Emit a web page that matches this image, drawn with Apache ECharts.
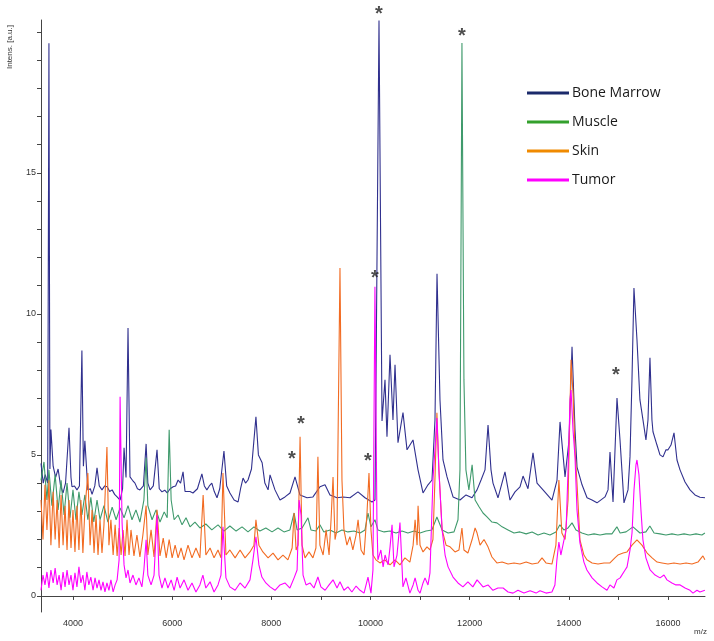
<!DOCTYPE html>
<html><head><meta charset="utf-8">
<script src="https://cdn.jsdelivr.net/npm/echarts@6/dist/echarts.min.js"></script>
<style>html,body{margin:0;padding:0;background:#fff}#c{width:714px;height:641px}</style>
</head><body><div id="c"></div>
<script>
const seriesNames = ['Bone Marrow', 'Muscle', 'Skin', 'Tumor'];
const xTickValues = [4000,5000,6000,7000,8000,9000,10000,11000,12000,13000,14000,15000,16000];
const xLabelValues = [4000,6000,8000,10000,12000,14000,16000];
const yTickValues = [0,1,2,3,4,5,6,7,8,9,10,11,12,13,14,15,16,17,18,19,20];
const yLabelValues = [0,5,10,15];

const boneMarrow = [[3355,4.7],[3400,4.0],[3440,4.3],[3490,4.0],[3515,19.6],[3535,4.5],[3555,5.9],[3600,4.6],[3650,4.2],[3700,4.5],[3750,3.9],[3800,3.65],[3850,4.0],[3920,5.96],[3960,4.2],[3980,3.87],[4030,3.9],[4080,3.76],[4130,3.9],[4180,8.7],[4210,4.6],[4240,5.5],[4300,3.76],[4350,3.8],[4385,3.6],[4440,3.9],[4485,4.54],[4530,3.9],[4585,3.76],[4640,3.9],[4690,3.87],[4740,3.7],[4790,3.76],[4840,3.6],[4890,3.51],[4950,3.4],[5000,3.8],[5030,5.25],[5070,4.2],[5110,9.5],[5150,4.22],[5200,4.1],[5250,4.0],[5300,3.8],[5350,3.76],[5420,3.9],[5475,5.39],[5510,4.0],[5555,3.76],[5620,3.9],[5695,5.18],[5740,3.8],[5795,3.69],[5850,3.75],[5900,3.65],[5960,3.8],[6020,3.87],[6070,3.9],[6120,4.11],[6170,4.0],[6220,4.4],[6260,3.7],[6300,3.65],[6360,3.7],[6420,3.65],[6510,3.8],[6600,4.33],[6650,3.9],[6700,3.76],[6750,3.9],[6800,4.0],[6850,3.7],[6905,3.48],[6960,3.8],[7045,5.14],[7100,3.9],[7165,3.65],[7250,3.4],[7330,3.33],[7380,3.8],[7430,4.18],[7480,4.0],[7530,4.11],[7600,4.5],[7690,6.35],[7740,5.0],[7815,4.72],[7870,4.0],[7935,3.76],[7974,4.29],[8074,3.76],[8175,3.4],[8276,3.51],[8377,3.65],[8478,4.22],[8578,3.58],[8720,3.48],[8840,3.51],[8982,3.87],[9083,3.94],[9183,3.58],[9325,3.48],[9446,3.51],[9587,3.48],[9748,3.69],[9890,3.48],[10031,3.33],[10091,3.4],[10130,3.35],[10172,20.4],[10233,6.2],[10293,7.66],[10333,5.64],[10394,8.55],[10454,6.24],[10495,8.2],[10555,5.43],[10656,6.5],[10737,5.18],[10858,5.53],[10959,4.47],[11060,3.65],[11160,3.94],[11241,4.11],[11301,6.24],[11342,11.42],[11402,6.95],[11463,4.82],[11544,4.22],[11665,3.51],[11806,3.4],[11927,3.58],[12048,3.48],[12149,3.76],[12230,4.11],[12310,4.47],[12371,6.06],[12431,4.47],[12471,4.0],[12572,3.48],[12713,4.4],[12814,3.4],[12915,3.69],[13016,3.87],[13077,4.25],[13177,3.8],[13278,5.07],[13359,4.0],[13480,3.76],[13661,3.4],[13762,4.1],[13823,6.17],[13924,4.22],[14004,5.5],[14065,8.83],[14125,5.9],[14166,4.57],[14267,3.94],[14368,3.48],[14468,3.4],[14569,3.3],[14730,3.51],[14791,3.76],[14831,5.1],[14892,3.33],[14972,7.02],[15033,5.53],[15113,3.3],[15194,3.76],[15234,4.93],[15274,7.66],[15314,10.92],[15375,9.08],[15435,6.95],[15496,6.24],[15556,5.53],[15597,6.24],[15637,8.44],[15677,6.24],[15698,5.82],[15778,5.35],[15839,5.0],[15900,4.93],[15960,5.18],[16001,5.18],[16061,5.35],[16122,5.78],[16182,4.82],[16243,4.47],[16344,4.04],[16445,3.76],[16545,3.58],[16646,3.5],[16747,3.48]];

const muscle = [[3355,4.1],[3415,4.75],[3475,3.4],[3515,4.47],[3575,3.2],[3640,4.3],[3700,3.05],[3760,4.1],[3820,2.87],[3880,4.0],[3940,2.77],[4000,3.76],[4060,2.7],[4120,3.69],[4180,2.87],[4240,3.58],[4300,2.7],[4360,3.5],[4420,2.62],[4485,3.4],[4545,2.7],[4625,3.2],[4705,2.62],[4790,3.15],[4870,2.7],[4950,3.12],[5030,2.77],[5110,3.2],[5190,2.7],[5270,3.05],[5350,2.62],[5430,3.4],[5475,4.9],[5510,3.2],[5595,2.7],[5675,3.05],[5755,2.62],[5840,2.98],[5900,2.77],[5940,5.89],[5980,3.4],[6040,2.7],[6120,2.87],[6200,2.52],[6280,2.77],[6360,2.45],[6460,2.62],[6560,2.41],[6680,2.55],[6800,2.34],[6925,2.52],[7045,2.3],[7165,2.48],[7290,2.3],[7410,2.45],[7530,2.27],[7650,2.45],[7770,2.3],[7890,2.41],[8015,2.27],[8135,2.41],[8255,2.27],[8375,2.34],[8460,2.94],[8520,2.34],[8620,2.41],[8740,2.77],[8800,2.34],[8900,2.3],[8980,2.52],[9060,2.27],[9185,2.34],[9305,2.23],[9425,2.34],[9545,2.27],[9670,2.3],[9790,2.23],[9890,2.34],[9950,2.94],[10010,2.45],[10090,2.7],[10150,2.34],[10275,2.27],[10395,2.3],[10515,2.23],[10635,2.3],[10755,2.23],[10880,2.3],[11000,2.23],[11120,2.3],[11240,2.34],[11340,2.8],[11445,2.34],[11565,2.23],[11685,2.27],[11765,2.7],[11805,4.47],[11845,19.6],[11885,7.66],[11925,4.47],[11985,3.76],[12050,4.65],[12110,3.4],[12190,3.16],[12270,2.94],[12350,2.8],[12450,2.62],[12550,2.59],[12655,2.45],[12775,2.34],[12895,2.23],[13015,2.27],[13140,2.2],[13260,2.27],[13380,2.16],[13500,2.23],[13620,2.16],[13740,2.27],[13820,2.52],[13900,2.34],[13985,2.41],[14065,2.59],[14145,2.34],[14265,2.23],[14390,2.16],[14510,2.2],[14630,2.16],[14750,2.2],[14870,2.2],[14970,2.45],[15035,2.23],[15155,2.27],[15295,2.45],[15435,2.23],[15555,2.27],[15635,2.48],[15720,2.23],[15840,2.2],[15960,2.16],[16080,2.2],[16200,2.16],[16325,2.2],[16445,2.16],[16565,2.2],[16685,2.16],[16745,2.23]];

const skin = [[3355,3.4],[3395,2.0],[3435,3.94],[3475,2.34],[3515,4.1],[3555,1.8],[3600,3.69],[3640,2.0],[3680,3.4],[3720,1.7],[3760,3.58],[3800,1.8],[3840,3.2],[3880,1.63],[3920,3.4],[3960,1.7],[4000,3.05],[4040,1.56],[4080,3.2],[4120,1.63],[4160,3.4],[4200,1.52],[4240,3.05],[4300,4.36],[4345,1.8],[4385,3.05],[4425,1.52],[4465,2.87],[4505,1.45],[4545,2.7],[4585,1.52],[4625,2.52],[4685,5.28],[4725,1.8],[4765,2.7],[4810,1.45],[4850,2.52],[4890,1.42],[4930,2.41],[4970,1.45],[5010,2.34],[5050,1.42],[5090,2.7],[5130,1.45],[5170,2.34],[5230,1.42],[5290,2.16],[5350,1.38],[5410,2.16],[5475,3.2],[5510,1.45],[5575,2.34],[5635,1.38],[5695,3.05],[5755,1.42],[5820,2.05],[5880,1.35],[5940,2.0],[6000,1.35],[6060,1.8],[6120,1.35],[6180,1.7],[6240,1.28],[6320,1.8],[6400,1.35],[6480,1.7],[6560,1.35],[6625,3.58],[6680,1.45],[6765,1.7],[6845,1.35],[6925,1.63],[6985,1.35],[7025,4.36],[7085,1.45],[7165,1.63],[7270,1.35],[7370,1.63],[7470,1.35],[7570,1.56],[7650,1.8],[7690,2.7],[7750,1.8],[7830,1.56],[7935,1.35],[8035,1.52],[8135,1.28],[8235,1.45],[8335,1.28],[8420,1.7],[8460,2.94],[8500,1.63],[8540,1.8],[8580,5.64],[8620,1.8],[8680,1.35],[8760,1.56],[8840,1.35],[8900,1.7],[8940,4.93],[8980,1.8],[9045,1.45],[9105,2.34],[9165,1.45],[9205,2.7],[9245,4.22],[9285,2.0],[9325,2.34],[9385,11.63],[9425,4.11],[9465,2.34],[9525,1.8],[9585,2.1],[9645,1.63],[9710,2.16],[9750,2.7],[9810,1.63],[9870,1.45],[9930,2.94],[9970,4.36],[10010,2.34],[10050,1.45],[10110,1.28],[10190,1.17],[10290,1.28],[10395,1.1],[10495,1.28],[10595,1.1],[10695,1.35],[10795,1.2],[10860,1.8],[10900,2.7],[10940,1.8],[10960,3.2],[11000,1.8],[11060,1.56],[11140,1.74],[11200,1.63],[11260,2.0],[11300,4.11],[11340,6.49],[11380,4.47],[11445,2.34],[11525,1.8],[11605,1.74],[11705,1.56],[11785,1.63],[11845,2.41],[11885,1.63],[11965,1.52],[12050,2.0],[12110,2.41],[12150,2.23],[12210,1.8],[12290,2.0],[12370,1.74],[12450,1.38],[12550,1.17],[12655,1.2],[12775,1.13],[12895,1.17],[13015,1.13],[13140,1.2],[13260,1.13],[13380,1.17],[13460,1.35],[13540,1.17],[13660,1.13],[13740,1.8],[13800,4.11],[13860,2.23],[13925,2.0],[13985,3.4],[14045,8.37],[14085,7.2],[14125,5.18],[14165,4.0],[14225,1.99],[14305,1.45],[14365,1.28],[14470,1.17],[14590,1.13],[14710,1.17],[14830,1.17],[14930,1.35],[14990,1.45],[15095,1.52],[15175,1.56],[15275,1.8],[15375,1.99],[15475,1.8],[15580,1.52],[15680,1.35],[15780,1.2],[15880,1.17],[16000,1.13],[16120,1.17],[16245,1.13],[16365,1.17],[16485,1.13],[16605,1.2],[16705,1.42],[16745,1.28]];

const tumor = [[3355,0.2],[3395,0.74],[3435,0.39],[3475,0.85],[3515,0.28],[3555,0.92],[3600,0.46],[3640,0.99],[3680,0.39],[3720,0.74],[3760,0.2],[3800,0.85],[3840,0.32],[3880,0.92],[3920,0.39],[3960,0.74],[4000,0.2],[4040,0.82],[4080,0.32],[4120,1.03],[4160,0.46],[4200,0.74],[4240,0.2],[4280,0.85],[4320,0.39],[4360,0.67],[4405,0.2],[4445,0.64],[4485,0.28],[4525,0.57],[4565,0.2],[4605,0.5],[4645,0.14],[4685,0.46],[4725,0.2],[4765,0.57],[4810,0.14],[4850,0.39],[4890,0.57],[4930,1.28],[4950,7.06],[4990,2.6],[5030,1.1],[5070,0.64],[5110,0.92],[5150,0.46],[5210,0.74],[5270,0.39],[5330,0.64],[5390,0.32],[5430,0.92],[5475,1.99],[5510,0.74],[5575,0.39],[5635,0.74],[5695,2.87],[5735,0.74],[5795,0.28],[5855,0.64],[5915,0.28],[5980,0.57],[6040,0.2],[6100,0.67],[6160,0.28],[6240,0.57],[6320,0.2],[6400,0.46],[6480,0.14],[6560,0.39],[6620,0.74],[6680,0.28],[6765,0.5],[6845,0.14],[6925,0.39],[6985,0.74],[7025,2.45],[7085,0.64],[7165,0.32],[7270,0.2],[7370,0.46],[7470,0.28],[7570,0.57],[7630,1.28],[7690,2.1],[7750,1.1],[7810,0.67],[7890,0.46],[7975,0.32],[8075,0.2],[8175,0.39],[8275,0.46],[8375,0.28],[8460,0.64],[8520,0.92],[8560,3.4],[8600,2.87],[8640,0.74],[8700,0.39],[8780,0.46],[8860,0.28],[8940,0.67],[9000,0.32],[9085,0.2],[9165,0.39],[9245,0.57],[9325,0.28],[9385,0.5],[9465,0.2],[9545,0.32],[9625,0.14],[9710,0.35],[9790,0.2],[9870,0.1],[9950,0.67],[10010,0.1],[10050,0.92],[10090,10.96],[10130,2.7],[10150,1.28],[10210,1.63],[10255,1.03],[10295,1.45],[10355,1.1],[10395,1.74],[10435,2.52],[10475,1.03],[10535,1.45],[10595,2.6],[10655,0.32],[10715,0.64],[10795,0.1],[10860,0.39],[10900,0.64],[10960,0.2],[11000,0.1],[11060,0.46],[11100,0.64],[11160,0.39],[11200,0.82],[11260,4.11],[11300,5.18],[11340,6.31],[11380,4.47],[11445,2.34],[11505,1.45],[11565,1.03],[11665,0.67],[11765,0.46],[11865,0.32],[11965,0.5],[12065,0.32],[12150,0.57],[12270,0.32],[12370,0.39],[12470,0.2],[12570,0.28],[12675,0.28],[12775,0.14],[12875,0.1],[12975,0.2],[13095,0.1],[13220,0.18],[13340,0.1],[13420,0.18],[13540,0.1],[13660,0.14],[13720,0.39],[13760,1.28],[13800,1.91],[13840,1.45],[13880,1.52],[13945,2.34],[13985,4.47],[14025,6.95],[14045,7.3],[14085,5.89],[14125,4.93],[14165,3.05],[14225,1.88],[14305,1.2],[14365,0.92],[14470,0.64],[14570,0.46],[14670,0.32],[14770,0.2],[14830,0.39],[14910,0.28],[14970,0.57],[15035,0.64],[15075,0.67],[15135,0.92],[15175,1.03],[15235,1.63],[15275,2.23],[15315,3.76],[15355,4.65],[15375,4.82],[15415,4.29],[15455,3.05],[15495,1.99],[15555,1.35],[15640,0.92],[15740,0.74],[15840,0.64],[15920,0.74],[15980,0.57],[16080,0.46],[16160,0.39],[16245,0.39],[16345,0.28],[16445,0.2],[16505,0.1],[16585,0.2],[16645,0.14],[16745,0.2]];

// asterisk annotation positions [m/z, intensity]
const asterisks = [[10172,20.8],[11846,20.0],[10091,11.42],[8599,6.24],[8417,5.0],[9950,4.96],[14952,8.01]];

const lineColors = ['#30308e', '#3f9a6c', '#f26b22', '#ff00ff'];
const legendColors = ['#1b2a6b', '#33a02c', '#f08a00', '#ff00ff'];
const seriesData = [boneMarrow, muscle, skin, tumor];

const chart = echarts.init(document.getElementById('c'), null, {renderer: 'canvas'});
const axisFont = 'Liberation Sans, Arial, sans-serif';
chart.setOption({
  animation: false,
  backgroundColor: '#fff',
  grid: {left: 41, right: 9, top: 20, bottom: 29},
  legend: {
    orient: 'vertical', left: 522, top: 81, itemGap: 15,
    icon: 'rect', itemWidth: 42, itemHeight: 3,
    textStyle: {fontSize: 14, color: '#1a1a1a', fontFamily: 'Open Sans, Noto Sans, sans-serif', padding: [0,0,0,-2]},
    data: seriesNames.map((n, i) => ({name: n, itemStyle: {color: legendColors[i]}}))
  },
  xAxis: {
    type: 'value', min: 3355, max: 16747,
    axisLine: {show: true, lineStyle: {color: '#444', width: 1}},
    axisTick: {show: true, length: 4, lineStyle: {color: '#444'}, customValues: xTickValues},
    axisLabel: {customValues: xLabelValues, formatter: v => String(v), fontSize: 9, color: '#333', fontFamily: axisFont, margin: 7},
    splitLine: {show: false}
  },
  yAxis: {
    type: 'value', min: -0.57, max: 20.42,
    axisLine: {show: true, lineStyle: {color: '#444', width: 1}},
    axisTick: {show: true, length: 4, lineStyle: {color: '#444'}, customValues: yTickValues},
    axisLabel: {customValues: yLabelValues, formatter: v => String(v), fontSize: 9, color: '#333', fontFamily: axisFont, margin: 5},
    splitLine: {show: false}
  },
  graphic: [
    {type: 'text', left: 6, top: 25, rotation: Math.PI / 2, style: {text: 'Intens. [a.u.]', fontSize: 8, fill: '#333', fontFamily: axisFont}},
    {type: 'text', left: 694, top: 628, style: {text: 'm/z', fontSize: 8, fill: '#333', fontFamily: axisFont}}
  ],
  series: seriesNames.map((n, i) => ({
    name: n, type: 'line', data: seriesData[i], showSymbol: false, symbol: 'none',
    lineStyle: {color: lineColors[i], width: 1.1}, itemStyle: {color: lineColors[i]},
    z: 2 + i
  })).concat([{
    name: 'peaks', type: 'scatter', data: asterisks, clip: false, symbol: 'circle', symbolSize: 2,
    itemStyle: {color: 'rgba(0,0,0,0)'}, z: 10, silent: true,
    label: {show: true, position: 'inside', formatter: '*', fontSize: 20, fontWeight: 'bold', color: '#222', fontFamily: axisFont, offset: [0, 5]}
  }])
});
</script></body></html>
